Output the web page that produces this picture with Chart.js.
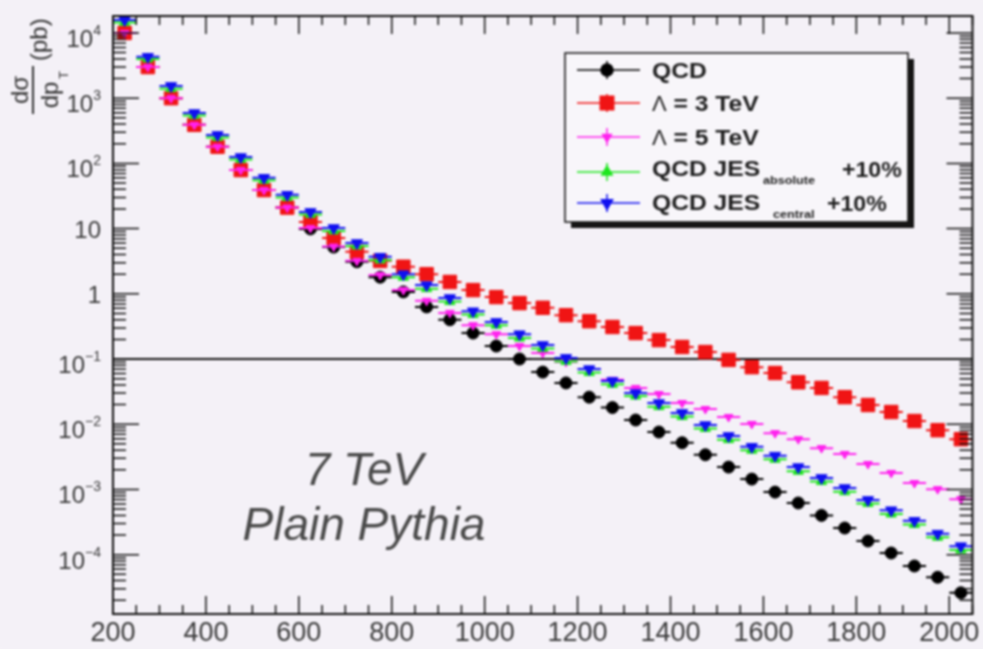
<!DOCTYPE html>
<html>
<head>
<meta charset="utf-8">
<title>dsigma/dpT</title>
<script src="https://cdn.jsdelivr.net/npm/chart.js@4/dist/chart.umd.min.js"></script>
<style>
html, body { margin: 0; padding: 0; background: #f4f1f7; }
canvas { display: block; filter: blur(0.8px); }
</style>
</head>
<body>
<canvas id="ptchart" width="983" height="649"></canvas>
<script>
// jet pT bins (GeV), 50 GeV wide
var binCenters = [225, 275, 325, 375, 425, 475, 525, 575, 625, 675, 725, 775, 825, 875, 925, 975, 1025,
    1075, 1125, 1175, 1225, 1275, 1325, 1375, 1425, 1475, 1525, 1575, 1625, 1675, 1725, 1775, 1825,
    1875, 1925, 1975, 2025];
var binHalfWidth = 25;

// cross sections in pb
var qcd = [1.0e4, 3.0e3, 1.0e3, 390, 180, 79, 39, 21, 9.9, 5.2, 3.1, 1.8, 1.07, 0.63, 0.40, 0.25, 0.158,
    0.10, 0.063, 0.043, 0.026, 0.018, 0.0116, 0.0076, 0.0052, 0.0034, 0.0022, 0.00144, 0.00091,
    0.00062, 0.00040, 0.000256, 0.000162, 0.000106, 6.7e-5, 4.5e-5, 2.6e-5];
var lambda3 = [1.0e4, 3.0e3, 1.0e3, 390, 180, 79, 39, 21, 12.6, 7.2, 4.4, 3.2, 2.6, 2.0, 1.52, 1.14, 0.89,
    0.72, 0.61, 0.47, 0.38, 0.31, 0.25, 0.195, 0.153, 0.128, 0.097, 0.075, 0.061, 0.044, 0.036,
    0.026, 0.0197, 0.0154, 0.0112, 0.0081, 0.0059];
var lambda5 = [1.0e4, 3.0e3, 1.0e3, 390, 180, 79, 39, 21, 10.2, 5.3, 3.2, 1.94, 1.14, 0.78, 0.51, 0.33, 0.24,
    0.158, 0.124, 0.090, 0.070, 0.048, 0.036, 0.029, 0.0211, 0.0171, 0.0129, 0.0101, 0.0073, 0.0059,
    0.0043, 0.0035, 0.00245, 0.00179, 0.00125, 0.00101, 0.00071];
var jesAbsolute = [1.45e4, 4.0e3, 1.4e3, 540, 250, 115, 55, 30, 16.5, 9.2, 5.4, 3.3, 1.8, 1.2, 0.76, 0.48,
    0.33, 0.21, 0.145, 0.092, 0.062, 0.041, 0.027, 0.0186, 0.0131, 0.0086, 0.0058, 0.0040, 0.0029,
    0.0019, 0.00132, 0.00092, 0.00061, 0.00042, 0.00029, 0.000185, 0.000118];
var jesCentral = [1.58e4, 4.3e3, 1.54e3, 590, 273, 125, 60, 33, 18, 10.2, 6.0, 3.7, 2.0, 1.36, 0.86, 0.54,
    0.37, 0.24, 0.164, 0.104, 0.070, 0.046, 0.030, 0.0211, 0.0149, 0.0097, 0.0066, 0.0045, 0.0033,
    0.0022, 0.0015, 0.00105, 0.00069, 0.00048, 0.00033, 0.00021, 0.000135];

var refLevel = 0.1;
var xTickLabels = [200, 400, 600, 800, 1000, 1200, 1400, 1600, 1800, 2000];
var yDecades = [4, 3, 2, 1, 0, -1, -2, -3, -4];

var FONT = '"Liberation Sans", Arial, sans-serif';

function points(values) {
    return values.map(function (v, i) { return { x: binCenters[i], y: v }; });
}

function series(label, values, color, style, radius, rotation, order) {
    return {
        label: label,
        data: points(values),
        showLine: false,
        borderColor: color,
        backgroundColor: color,
        pointStyle: style,
        pointRadius: radius,
        pointRotation: rotation,
        pointBorderWidth: 1,
        xErr: binHalfWidth,
        clip: false,
        order: order
    };
}

// horizontal bin-width bars, drawn just under each series' markers
var errorBars = {
    id: 'errorBars',
    beforeDatasetDraw: function (chart, args) {
        var ds = chart.data.datasets[args.index];
        if (!ds.xErr) return;
        var ctx = chart.ctx, xs = chart.scales.x;
        ctx.save();
        ctx.strokeStyle = ds.borderColor;
        ctx.lineWidth = 2;
        ctx.beginPath();
        args.meta.data.forEach(function (pt, i) {
            var xv = ds.data[i].x;
            ctx.moveTo(xs.getPixelForValue(xv - ds.xErr), pt.y);
            ctx.lineTo(xs.getPixelForValue(xv + ds.xErr), pt.y);
        });
        ctx.stroke();
        ctx.restore();
    }
};

function stretchText(ctx, text, x, y, sx) {
    ctx.save();
    ctx.translate(x, y);
    ctx.scale(sx, 1);
    ctx.fillText(text, 0, 0);
    var w = ctx.measureText(text).width * sx;
    ctx.restore();
    return w;
}

// frame, inward ticks, labels, legend and captions
var rootFrame = {
    id: 'rootFrame',
    beforeDraw: function (chart) {
        var ctx = chart.ctx;
        ctx.save();
        ctx.fillStyle = '#f4f1f7';
        ctx.fillRect(0, 0, chart.width, chart.height);
        ctx.restore();
    },
    afterDraw: function (chart) {
        var ctx = chart.ctx, a = chart.chartArea, xs = chart.scales.x, ys = chart.scales.y;
        ctx.save();
        ctx.strokeStyle = '#111';
        ctx.lineWidth = 1.5;
        ctx.beginPath();
        for (var v = 200; v <= xs.max; v += 50) {
            var px = xs.getPixelForValue(v);
            var len = v % 200 === 0 ? 18 : 9;
            ctx.moveTo(px, a.bottom); ctx.lineTo(px, a.bottom - len);
            ctx.moveTo(px, a.top); ctx.lineTo(px, a.top + len);
        }
        for (var e = -6; e <= 5; e++) {
            for (var m = 1; m <= 9; m++) {
                var val = m * Math.pow(10, e);
                if (val < ys.min || val > ys.max) continue;
                var py = ys.getPixelForValue(val);
                var l = m === 1 ? 26 : 13;
                ctx.moveTo(a.left, py); ctx.lineTo(a.left + l, py);
                ctx.moveTo(a.right, py); ctx.lineTo(a.right - l, py);
            }
        }
        ctx.stroke();
        ctx.lineWidth = 2;
        ctx.strokeRect(a.left, a.top, a.right - a.left, a.bottom - a.top);

        // x tick labels
        ctx.fillStyle = '#3a3a3a';
        ctx.font = '27px ' + FONT;
        ctx.textAlign = 'center';
        ctx.textBaseline = 'middle';
        xTickLabels.forEach(function (t) {
            ctx.fillText(String(t), xs.getPixelForValue(t), 634);
        });

        // y tick labels
        ctx.textAlign = 'left';
        ctx.textBaseline = 'alphabetic';
        var right = 101;
        yDecades.forEach(function (d) {
            var py = ys.getPixelForValue(Math.pow(10, d));
            if (d === 0 || d === 1) {
                ctx.font = '24px ' + FONT;
                var txt = d === 0 ? '1' : '10';
                ctx.fillText(txt, right - ctx.measureText(txt).width, py + 9);
                return;
            }
            ctx.font = '14px ' + FONT;
            var sup = String(d).replace('-', '\u2212');
            var ws = ctx.measureText(sup).width;
            ctx.fillText(sup, right - ws, py + 2);
            ctx.font = '24px ' + FONT;
            ctx.fillText('10', right - ws - ctx.measureText('10').width, py + 14);
        });

        // y axis title, rotated
        ctx.save();
        ctx.translate(40, 117);
        ctx.rotate(-Math.PI / 2);
        ctx.fillStyle = '#333';
        ctx.font = '24px ' + FONT;
        ctx.textBaseline = 'middle';
        ctx.textAlign = 'center';
        ctx.fillText('d\u03c3', 27, -19);
        ctx.fillText('dp', 22, 11);
        ctx.font = '13px ' + FONT;
        ctx.fillText('T', 42, 24);
        ctx.fillRect(3, -8, 48, 2);
        ctx.font = '24px ' + FONT;
        ctx.textAlign = 'left';
        ctx.fillText('(pb)', 56, 0);
        ctx.restore();

        // captions
        ctx.fillStyle = '#4a4a4a';
        ctx.font = 'italic 46px ' + FONT;
        ctx.textAlign = 'center';
        ctx.fillText('7 TeV', 364, 485);
        ctx.fillText('Plain Pythia', 364, 540);

        // legend box with drop shadow
        var bx = 565, by = 53, bw = 343, bh = 169;
        ctx.fillStyle = '#151515';
        ctx.fillRect(bx + 6, by + 6, bw, bh);
        ctx.fillStyle = '#f8f6fa';
        ctx.fillRect(bx, by, bw, bh);
        ctx.strokeStyle = '#111';
        ctx.lineWidth = 1.5;
        ctx.strokeRect(bx, by, bw, bh);

        var markY = [70, 103, 137, 172, 203];
        var textY = [78, 111, 145, 176, 210];
        var lsets = chart.data.datasets.filter(function (ds) { return ds.xErr; });
        ctx.textAlign = 'left';
        lsets.forEach(function (ds, i) {
            var y = markY[i];
            ctx.strokeStyle = ds.borderColor;
            ctx.fillStyle = ds.backgroundColor;
            ctx.lineWidth = 1.5;
            ctx.beginPath();
            ctx.moveTo(577, y); ctx.lineTo(640, y);
            ctx.moveTo(607, y - 9); ctx.lineTo(607, y + 9);
            ctx.stroke();
            Chart.helpers.drawPoint(ctx, {
                pointStyle: ds.pointStyle, radius: ds.pointRadius, rotation: ds.pointRotation, borderWidth: 1
            }, 607, y);

            ctx.fillStyle = '#1e1e1e';
            var ty = textY[i];
            var x = 652;
            if (ds.legendParts) {
                var p = ds.legendParts;
                ctx.font = 'bold 22px ' + FONT;
                stretchText(ctx, p[0], x, ty, 1.12);
                ctx.font = 'bold 11px ' + FONT;
                stretchText(ctx, p[1], p[3], ty + 8, 1.15);
                ctx.font = 'bold 22px ' + FONT;
                stretchText(ctx, p[2], p[4], ty + 1, 1.05);
            } else if (ds.label.charAt(0) === '\u039b') {
                ctx.font = '22px ' + FONT;
                x += stretchText(ctx, '\u039b', x, ty, 1.0);
                ctx.font = 'bold 22px ' + FONT;
                stretchText(ctx, ds.label.slice(1), x, ty, 1.12);
            } else {
                ctx.font = 'bold 22px ' + FONT;
                stretchText(ctx, ds.label, x, ty, 1.12);
            }
        });
        ctx.restore();
    }
};

var datasets = [
    series('QCD', qcd, '#000000', 'circle', 6, 0, 5),
    series('\u039b = 3 TeV', lambda3, '#f01414', 'rect', 9.5, 0, 4),
    series('\u039b = 5 TeV', lambda5, '#ff22ee', 'triangle', 5, 180, 3),
    series('QCD JES absolute +10%', jesAbsolute, '#1ee61e', 'triangle', 6, 0, 2),
    series('QCD JES central +10%', jesCentral, '#1010f0', 'triangle', 6.5, 180, 1),
    {
        label: 'reference',
        data: [{ x: 200, y: refLevel }, { x: 2050, y: refLevel }],
        showLine: true,
        borderColor: '#111',
        borderWidth: 2,
        pointRadius: 0,
        order: 6
    }
];
datasets[3].legendParts = ['QCD JES', 'absolute', '+10%', 763, 842];
datasets[4].legendParts = ['QCD JES', 'central', '+10%', 773, 827];

var ctx = document.getElementById('ptchart').getContext('2d');
var myChart = new Chart(ctx, {
    type: 'line',
    data: { datasets: datasets },
    options: {
        responsive: false,
        animation: false,
        devicePixelRatio: 1,
        layout: { padding: { left: 113, right: 1, top: 16, bottom: 35 } },
        scales: {
            x: { type: 'linear', min: 200, max: 2050, display: false },
            y: { type: 'logarithmic', min: 1.23e-5, max: 1.82e4, display: false }
        },
        plugins: {
            legend: { display: false },
            tooltip: { enabled: false }
        }
    },
    plugins: [errorBars, rootFrame]
});
</script>
</body>
</html>
